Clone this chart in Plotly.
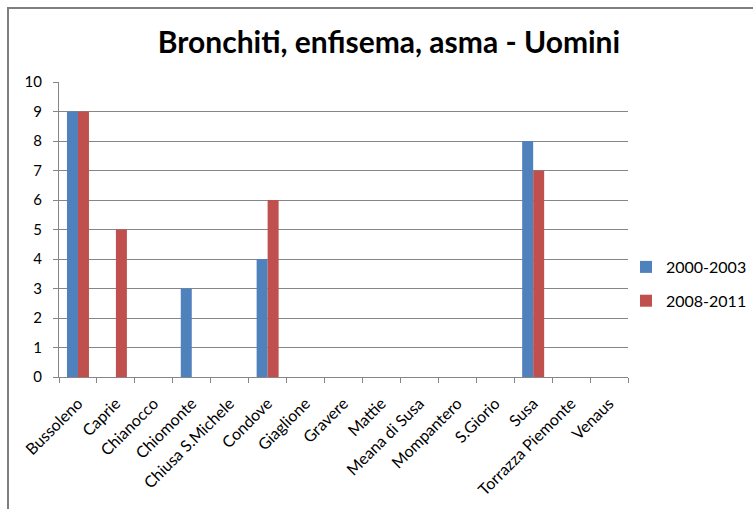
import plotly.graph_objects as go

categories = ["Bussoleno", "Caprie", "Chianocco", "Chiomonte", "Chiusa S.Michele", "Condove",
              "Giaglione", "Gravere", "Mattie", "Meana di Susa", "Mompantero", "S.Giorio",
              "Susa", "Torrazza Piemonte", "Venaus"]
series_2000_2003 = [9, 0, 0, 3, 0, 4, 0, 0, 0, 0, 0, 0, 8, 0, 0]
series_2008_2011 = [9, 5, 0, 0, 0, 6, 0, 0, 0, 0, 0, 0, 7, 0, 0]
y_ticks = [0, 1, 2, 3, 4, 5, 6, 7, 8, 9, 10]

W, H = 753, 509
L, R, T, B = 59, 628, 82, 377

fig = go.Figure()
fig.add_trace(go.Bar(x=categories, y=series_2000_2003, name="2000-2003", legendgroup="a",
                     marker=dict(color="#4F81BD", line=dict(width=0))))
fig.add_trace(go.Bar(x=categories, y=series_2008_2011, name="2008-2011", legendgroup="b",
                     marker=dict(color="#C0504D", line=dict(width=0))))

pw, ph = R - L, B - T
def px(x): return (x - L) / pw
def py(y): return (B - y) / ph

fig.update_layout(
    width=W, height=H,
    margin=dict(l=L, r=W - R, t=T, b=H - B, pad=0, autoexpand=False),
    paper_bgcolor="white", plot_bgcolor="white",
    barmode="group", bargap=0.42, bargroupgap=0,
    font=dict(family="Lato, Open Sans, sans-serif", size=14, color="#000000"),
    title=dict(text="<b>Bronchiti, enfisema, asma - Uomini</b>", x=389 / W, xanchor="center",
               y=1 - 42 / H, yanchor="middle",
               font=dict(family="Lato, Open Sans, sans-serif", size=30, color="#000000")),
    legend=dict(x=px(626), y=py(284), xanchor="left", yanchor="middle",
                font=dict(size=16), tracegroupgap=10, itemwidth=30,
                bgcolor="rgba(0,0,0,0)"),
    xaxis=dict(type="category", tickangle=-45, showgrid=False, automargin=False,
               showline=True, linecolor="#868686", linewidth=1,
               ticks="outside", ticklen=5, tickcolor="#868686",
               tickson="boundaries", tickfont=dict(size=16), ticklabelstandoff=10),
    yaxis=dict(range=[0, 10], tickvals=y_ticks, showgrid=True, gridcolor="#868686", gridwidth=1,
               showline=True, linecolor="#868686", linewidth=1, automargin=False,
               ticks="outside", ticklen=5, tickcolor="#868686",
               zeroline=False, tickfont=dict(size=15), ticklabelstandoff=8),
    shapes=[
        dict(type="rect", xref="paper", yref="paper",
             x0=px(8), x1=px(800), y0=py(8), y1=py(600),
             line=dict(color="#7f7f7f", width=2), fillcolor="rgba(0,0,0,0)", layer="above"),
    ],
)

fig.write_html("out.html", config={"displayModeBar": False},
               post_script="document.body.style.margin='0';document.body.style.padding='0';")
